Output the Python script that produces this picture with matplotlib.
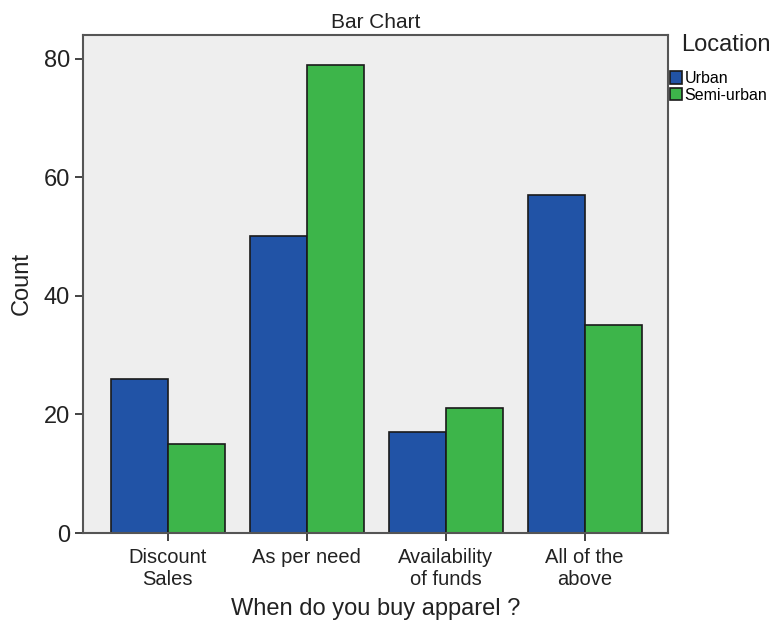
import numpy as np
import matplotlib
matplotlib.use("Agg")
import matplotlib.pyplot as plt

# 数据
categories = ["Discount\nSales", "As per need", "Availability\nof funds", "All of the\nabove"]
urban = [26, 50, 17, 57]
semi_urban = [15, 79, 21, 35]

plt.rcParams['font.family'] = ['Liberation Sans', 'DejaVu Sans']

fig = plt.figure(figsize=(7.78, 6.25), dpi=100)
ax = fig.add_axes([0.1067, 0.1472, 0.752, 0.797])
ax.set_facecolor("#eeeeee")

x = np.arange(len(categories))
w = 0.41
ax.bar(x - w / 2, urban, w, color="#2153a6", edgecolor="#1a1a1a", linewidth=1.2, label="Urban")
ax.bar(x + w / 2, semi_urban, w, color="#3db54a", edgecolor="#1a1a1a", linewidth=1.2, label="Semi-urban")

ax.set_xlim(-0.61, 3.6)
ax.set_ylim(0, 84)
ax.set_yticks([0, 20, 40, 60, 80])
ax.set_xticks(x)
ax.set_xticklabels(categories, fontsize=14.5, color="#222222", linespacing=1.15)
ax.tick_params(axis="y", labelsize=17, length=6, width=1.2, colors="#222222")
ax.tick_params(axis="x", length=6, width=1.2, colors="#222222", pad=5)
for s in ax.spines.values():
    s.set_color("#555555")
    s.set_linewidth(1.5)

ax.set_title("Bar Chart", fontsize=15, pad=5, color="#222222")
ax.set_xlabel("When do you buy apparel ?", fontsize=17, color="#222222", labelpad=7)
ax.set_ylabel("Count", fontsize=17, color="#222222", labelpad=8)

# 图例
fig.text(681 / 778, 1 - 45 / 625, "Location", fontsize=17, color="#222222", va="center", ha="left")
leg = fig.legend(loc="upper left", bbox_to_anchor=(670 / 778, 1 - 71 / 625), frameon=False,
                 fontsize=11.5, handlelength=0.75, handleheight=0.85, handletextpad=0.15,
                 borderaxespad=0, borderpad=0, labelspacing=0.1)

fig.savefig("out.png", dpi=100)
